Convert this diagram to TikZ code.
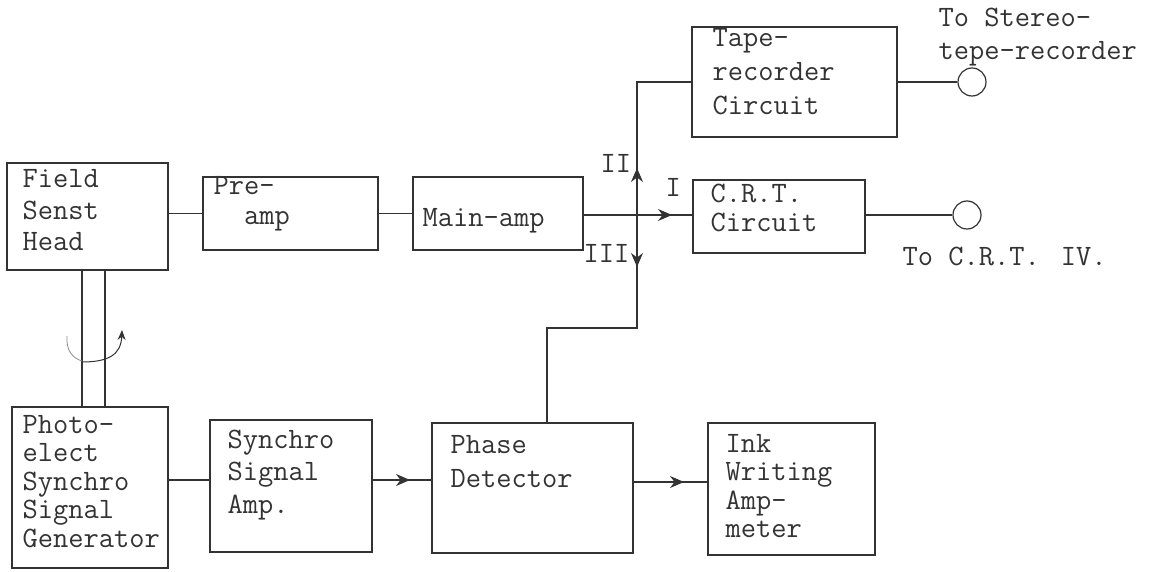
\documentclass[tikz,border=0pt]{standalone}
\usepackage{fontspec}
\usepackage{tikz}
\usetikzlibrary{arrows.meta}

\begin{document}
\begin{tikzpicture}[x=0.5pt, y=-0.5pt, line width=0.6pt, black!80,
    blk/.style={draw, inner sep=0pt},
    txt/.style={inner sep=0pt, anchor=base west, align=left,
      font=\fontsize{14.8}{#1}\selectfont\ttfamily},
    txt/.default=16,
    term/.style={draw, circle, minimum size=14pt, inner sep=0pt},
    >={Stealth[length=7pt,width=6pt]}]
    \useasboundingbox (0,0) rectangle (1151,572);

    % boxes
    \node[blk, minimum width=80.5pt, minimum height=53.5pt] (head) at (87.5,216.5) {};
    \node[blk, minimum width=87.5pt, minimum height=36.5pt] (pre) at (290.5,213.5) {};
    \node[blk, minimum width=85pt, minimum height=36.5pt] (main) at (498,213.5) {};
    \node[blk, minimum width=102.5pt, minimum height=55pt] (tape) at (794.5,82) {};
    \node[blk, minimum width=86pt, minimum height=36.5pt] (crt) at (779,216.5) {};
    \node[blk, minimum width=78pt, minimum height=80.5pt] (photo) at (90,487.5) {};
    \node[blk, minimum width=81pt, minimum height=66pt] (syn) at (291,486) {};
    \node[blk, minimum width=100.5pt, minimum height=65pt] (phase) at (532.5,488) {};
    \node[blk, minimum width=83.5pt, minimum height=66pt] (ink) at (791.5,489) {};
    \node[term] (ost) at (972,82) {};
    \node[term] (ocrt) at (967,215) {};

    % texts (placed at the baseline of the last line)
    \node[txt] (headtxt) at (22,251) {Field\\Senst\\Head};
    \node[txt=15] (pretxt) at (213,225) {Pre-\\\phantom{Pr}amp};
    \node[txt] (maintxt) at (422,227) {Main-amp};
    \node[txt=17] (tapetxt) at (712,115) {Tape-\\recorder\\Circuit};
    \node[txt=14.5] (crttxt) at (710,232) {C.R.T.\\Circuit};
    \node[txt=14.25] (phototxt) at (22,547) {Photo-\\elect\\Synchro\\Signal\\Generator};
    \node[txt=16.25] (syntxt) at (227,513) {Synchro\\Signal\\Amp.};
    \node[txt=17] (phasetxt) at (450,487) {Phase\\Detector};
    \node[txt=14.25] (inktxt) at (725,537.5) {Ink\\Writing\\Amp-\\meter};
    \node[txt=16.5] (osttxt) at (938,60) {To Stereo-\\tepe-recorder};
    \node[txt] (ocrttxt) at (902,265) {To C.R.T.\hspace{0.2em} IV.};
    \node[txt] (lII) at (600,173) {II};
    \node[txt] (lI) at (665,197) {I};
    \node[txt] (lIII) at (583,263) {III};

    % switch points
    \coordinate (sw) at (637,215);
    \coordinate (arI) at (672,215);
    \coordinate (arII) at (637,168);
    \coordinate (arIII) at (637,267);
    \coordinate (bend) at (637,328);
    \coordinate (drop) at (547,328);
    \coordinate (shL) at (82,0);
    \coordinate (shR) at (105,0);
    \coordinate (sig) at (0,480);
    \coordinate (arS) at (410,480);
    \coordinate (arP) at (684,482);

    % signal path
    \draw (pre.west -| head.east) -- (pre.west);
    \draw (pre.east) -- (pre.east -| main.west);
    \draw (main.east |- sw) -- (sw -| crt.west);
    \draw (tape.west) -| (bend) -- (drop) -- (drop |- phase.north);
    \draw[->] (sw) -- (arI);
    \draw[->] (sw) -- (arII);
    \draw[->] (sw) -- (arIII);
    \draw (tape.east) -- (ost);
    \draw (ocrt -| crt.east) -- (ocrt);

    % shaft and rotation
    \draw (shL |- head.south) -- (shL |- photo.north);
    \draw (shR |- head.south) -- (shR |- photo.north);
    \draw[black!45, line width=0.4pt] (67,336) .. controls (66,350) and (72,358) .. (82,361);
    \draw[-{Stealth[length=5pt,width=4pt]}, line width=0.5pt] (82,362) .. controls (108,362) and (121,355) .. (122,330);

    % lower chain
    \draw (photo.east |- sig) -- (syn.west |- sig);
    \draw (syn.east |- sig) -- (phase.west |- sig);
    \draw[->] (syn.east |- sig) -- (arS);
    \draw (phase.east |- arP) -- (ink.west |- arP);
    \draw[->] (phase.east |- arP) -- (arP);
\end{tikzpicture}
\end{document}
